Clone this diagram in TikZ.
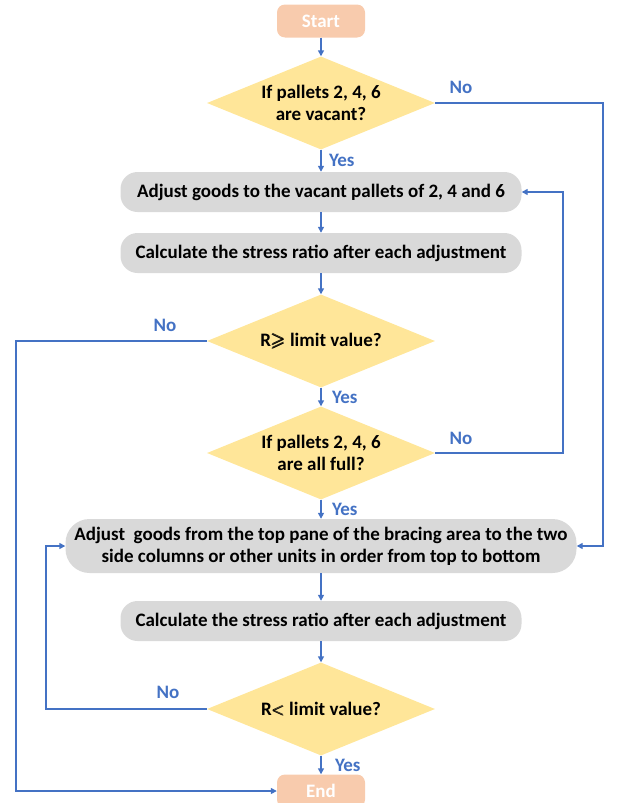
\documentclass[tikz,border=0pt]{standalone}
\usepackage{amsmath}
\usepackage{amssymb}
\usepackage{fontspec}
\setmainfont{Carlito}
\usetikzlibrary{shapes.geometric, arrows.meta}

\begin{document}
\begin{tikzpicture}[x=1pt, y=-1pt,
    every node/.style={font=\bfseries\fontsize{19}{22}\selectfont},
    terminal/.style={draw=none, fill=termColour, text=white, rounded corners=8pt,
        minimum width=88pt, minimum height=33pt},
    process/.style={draw=none, fill=boxColour, rounded corners=17pt,
        minimum width=401pt, minimum height=40pt, align=center},
    decision/.style={diamond, draw=none, fill=decColour, aspect=2.45,
        inner xsep=-30pt, inner ysep=-12pt,
        minimum width=228pt, minimum height=93pt, align=center},
    flow/.style={draw=lineColour, line width=1.4pt,
        -{Triangle[length=6pt, width=6pt]}},
    answer/.style={text=lineColour}]

    \definecolor{lineColour}{HTML}{4472C4}
    \definecolor{termColour}{HTML}{F8CBAD}
    \definecolor{boxColour}{HTML}{D9D9D9}
    \definecolor{decColour}{HTML}{FFE699}

    % Fix the page size
    \useasboundingbox (0,0) rectangle (620,803);

    % Main column
    \node[terminal] (start) at (321,21) {Start};
    \node[decision] (vacant) at (321,103) {If pallets 2, 4, 6\\are vacant?};
    \node[process] (adjustA) at (321,192) {Adjust goods to the vacant pallets of 2, 4 and 6};
    \node[process] (calcA) at (321,253) {Calculate the stress ratio after each adjustment};
    \node[decision] (limitA) at (321,341) {R$\pmb{\geqslant}$ limit value?};
    \node[decision] (full) at (321,453) {If pallets 2, 4, 6\\are all full?};
    \node[process, minimum width=511pt, minimum height=54pt, rounded corners=24pt, inner xsep=0pt]
        (adjustB) at (321,546) {Adjust\ \ goods from the top pane of the bracing area to the two\\side columns or other units in order from top to bottom};
    \node[process] (calcB) at (321,621) {Calculate the stress ratio after each adjustment};
    \node[decision] (limitB) at (321,709) {R$\pmb{<}$ limit value?};
    \node[terminal] (finish) at (321,791) {End};

    % Turning points of the loops
    \coordinate (farRight) at (603,0);
    \coordinate (nearRight) at (563,0);
    \coordinate (farLeft) at (16,0);
    \coordinate (nearLeft) at (46,0);

    % Draw straight arrows
    \draw[flow] (start) -- (vacant);
    \draw[flow] (vacant) -- (adjustA) node[answer, midway, right=4pt] {Yes};
    \draw[flow] (adjustA) -- (calcA);
    \draw[flow] (calcA) -- (limitA);
    \draw[flow] (limitA) -- (full) node[answer, midway, right=7pt] {Yes};
    \draw[flow] (full) -- (adjustB) node[answer, midway, right=7pt] {Yes};
    \draw[flow] (adjustB) -- (calcB);
    \draw[flow] (calcB) -- (limitB);
    \draw[flow] (limitB) -- (finish) node[answer, midway, right=10pt] {Yes};

    % Draw loop arrows
    \draw[flow] (vacant.east) -- (vacant.east -| farRight) |- (adjustB.east);
    \node[answer] (noVacant) at (461,87) {No};
    \draw[flow] (full.east) -- (full.east -| nearRight) |- (adjustA.east);
    \node[answer] (noFull) at (461,438) {No};
    \draw[flow] (limitA.west) -- (limitA.west -| farLeft) |- (finish.west);
    \node[answer] (noLimitA) at (165,325) {No};
    \draw[flow] (limitB.west) -- (limitB.west -| nearLeft) |- (adjustB.west);
    \node[answer] (noLimitB) at (168,692) {No};

\end{tikzpicture}
\end{document}
